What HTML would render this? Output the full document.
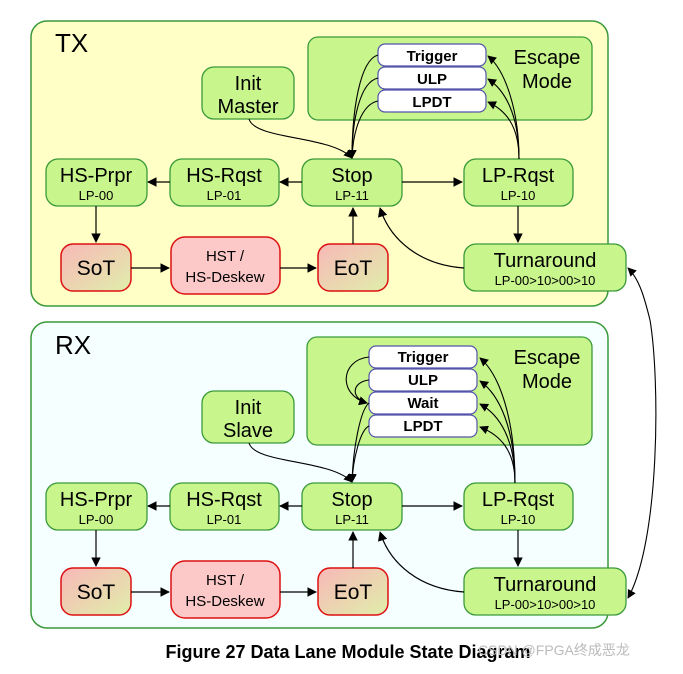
<!DOCTYPE html>
<html><head><style>
body{margin:0;background:#fff;width:683px;height:669px;overflow:hidden}
svg text{font-family:"Liberation Sans",Arial,sans-serif}
</style></head><body>
<svg width="683" height="669" viewBox="0 0 683 669" xmlns="http://www.w3.org/2000/svg">
<defs>
<marker id="a" viewBox="0 0 10 10" refX="9" refY="5" markerWidth="8" markerHeight="8" orient="auto-start-reverse"><path d="M0,0L10,5L0,10z" fill="#000"/></marker>
<linearGradient id="r" x1="0" y1="0" x2="1" y2="1"><stop offset="0" stop-color="#f8b8b8"/><stop offset="1" stop-color="#e0eeaa"/></linearGradient>
</defs>
<!-- TX -->
<rect x="31" y="21" width="577" height="285" rx="16" fill="#ffffc6" stroke="#3a9a3a" stroke-width="1.5"/>
<text x="55" y="52" font-size="26">TX</text>
<rect x="308" y="37" width="284" height="83" rx="10" fill="#c8f58c" stroke="#3a9a3a" stroke-width="1.3"/>
<text x="547" y="64" font-size="20" text-anchor="middle">Escape</text>
<text x="547" y="88" font-size="20" text-anchor="middle">Mode</text>
<g fill="#fff" stroke="#5555aa" stroke-width="1.2">
<rect x="378" y="44" width="108" height="22" rx="7"/><rect x="378" y="67" width="108" height="22" rx="7"/><rect x="378" y="90" width="108" height="22" rx="7"/>
</g>
<g font-size="15" font-weight="bold" text-anchor="middle"><text x="432" y="61">Trigger</text><text x="432" y="84">ULP</text><text x="432" y="107">LPDT</text></g>
<!-- RX -->
<rect x="31" y="322" width="577" height="306" rx="16" fill="#f5ffff" stroke="#3a9a3a" stroke-width="1.5"/>
<text x="55" y="354" font-size="26">RX</text>
<rect x="307" y="337" width="285" height="108" rx="10" fill="#c8f58c" stroke="#3a9a3a" stroke-width="1.3"/>
<text x="547" y="364" font-size="20" text-anchor="middle">Escape</text>
<text x="547" y="388" font-size="20" text-anchor="middle">Mode</text>
<g fill="#fff" stroke="#5555aa" stroke-width="1.2">
<rect x="369" y="346" width="108" height="22" rx="7"/><rect x="369" y="369" width="108" height="22" rx="7"/><rect x="369" y="392" width="108" height="22" rx="7"/><rect x="369" y="415" width="108" height="22" rx="7"/>
</g>
<g font-size="15" font-weight="bold" text-anchor="middle"><text x="423" y="362">Trigger</text><text x="423" y="385">ULP</text><text x="423" y="408">Wait</text><text x="423" y="431">LPDT</text></g>

<g id="tx">
<g fill="#c8f58c" stroke="#3a9a3a" stroke-width="1.3">
<rect x="202" y="67" width="92" height="52" rx="12"/>
<rect x="46" y="159" width="101" height="47" rx="12"/>
<rect x="170" y="159" width="109" height="47" rx="12"/>
<rect x="302" y="159" width="100" height="47" rx="12"/>
<rect x="464" y="159" width="109" height="47" rx="12"/>
<rect x="464" y="244" width="162" height="47" rx="12"/>
</g>
<g fill="url(#r)" stroke="#dd1111" stroke-width="1.5">
<rect x="61" y="244" width="70" height="47" rx="12"/>
<rect x="318" y="244" width="70" height="47" rx="12"/>
</g>
<rect x="171" y="237" width="109" height="57" rx="14" fill="#fcc8c8" stroke="#dd1111" stroke-width="1.5"/>
<g text-anchor="middle">
<text x="96" y="182" font-size="20">HS-Prpr</text><text x="96" y="200" font-size="13">LP-00</text>
<text x="224" y="182" font-size="20">HS-Rqst</text><text x="224" y="200" font-size="13">LP-01</text>
<text x="352" y="182" font-size="20">Stop</text><text x="352" y="200" font-size="13">LP-11</text>
<text x="518" y="182" font-size="20">LP-Rqst</text><text x="518" y="200" font-size="13">LP-10</text>
<text x="545" y="267" font-size="20">Turnaround</text><text x="545" y="285" font-size="13">LP-00&gt;10&gt;00&gt;10</text>
<text x="96" y="275" font-size="21">SoT</text>
<text x="353" y="275" font-size="21">EoT</text>
<text x="225" y="261" font-size="15">HST /</text><text x="225" y="282" font-size="15">HS-Deskew</text>
</g>
<g fill="none" stroke="#000" stroke-width="1.2" marker-end="url(#a)">
<path d="M302,182H280"/><path d="M170,182H148"/><path d="M402,182H462"/>
<path d="M96,206V242"/><path d="M131,268H169"/><path d="M280,268H316"/>
<path d="M353,244V208"/><path d="M518,206V242"/>
<path d="M464,268C420,265 390,240 380,208"/>
</g>
</g>
<use href="#tx" transform="translate(0,324)"/>
<text x="248" y="90" font-size="20" text-anchor="middle">Init</text><text x="248" y="113" font-size="20" text-anchor="middle">Master</text>
<text x="248" y="414" font-size="20" text-anchor="middle">Init</text><text x="248" y="437" font-size="20" text-anchor="middle">Slave</text>
<g fill="none" stroke="#000" stroke-width="1.1" marker-end="url(#a)">
<path d="M249,119C255,140 330,135 352,158"/>
<path d="M378,55C360,60 352,110 352,158"/>
<path d="M378,78C360,82 352,120 352,158"/>
<path d="M378,101C362,104 353,130 352,158"/>
<path d="M519,159C519,110 505,70 488,56"/>
<path d="M519,159C519,115 505,90 488,79"/>
<path d="M519,159C519,125 505,110 488,102"/>
<path d="M249,443C255,464 330,459 352,482"/>
<path d="M369,357C340,360 338,395 367,403"/>
<path d="M369,380C352,382 350,398 367,403"/>
<path d="M369,403C360,410 353,450 352,482"/>
<path d="M369,426C360,430 353,460 352,482"/>
<path d="M515,483C515,420 500,375 480,358"/>
<path d="M515,483C515,430 500,395 480,381"/>
<path d="M515,483C515,440 500,415 480,404"/>
<path d="M515,483C515,450 500,435 480,427"/>
<path d="M650,320C660,380 660,540 628,598" />
<path d="M650,320C645,300 640,280 628,268"/>
</g>
<text x="348" y="658" font-size="18" font-weight="bold" text-anchor="middle">Figure 27 Data Lane Module State Diagram</text>
<text x="478" y="655" font-size="14" fill="#bbb" font-family="Liberation Sans,Noto Sans CJK SC,sans-serif">CSDN @FPGA终成恶龙</text>
</svg>
</body></html>
